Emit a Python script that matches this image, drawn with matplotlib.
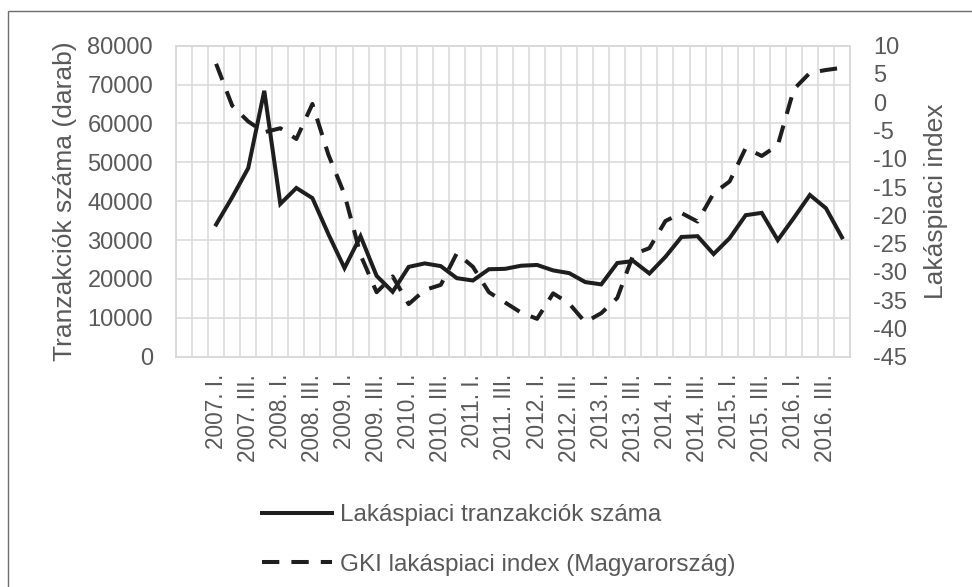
import matplotlib

matplotlib.use("Agg")
import matplotlib.pyplot as plt
import matplotlib.patches as mpatches
import numpy as np

plt.rcParams["font.family"] = ["Liberation Sans", "DejaVu Sans"]

# quarterly data, 2007 Q1 .. 2016 Q4
YEARS = list(range(2007, 2017))
QUARTERS = ["I.", "II.", "III.", "IV."]
categories = [f"{y}. {q}" for y in YEARS for q in QUARTERS]

transactions = [34000, 41000, 48500, 68400, 39300, 43400, 40800, 31500,
                22800, 31000, 20800, 16700, 23100, 24000, 23300, 20200,
                19600, 22500, 22600, 23400, 23600, 22200, 21500, 19200,
                18600, 24100, 24600, 21400, 25700, 30800, 31000, 26400,
                30500, 36400, 37000, 30000, 35700, 41600, 38200, 30700]

gki_index = [6.8, -0.6, -3.4, -5.3, -4.6, -6.5, -0.3, -9.3,
             -16.3, -27.0, -33.6, -30.8, -35.7, -33.2, -32.3, -26.7,
             -29.1, -33.6, -35.4, -37.2, -38.3, -33.8, -35.6, -38.9,
             -37.3, -34.6, -26.9, -25.8, -21.0, -19.6, -21.1, -16.1,
             -14.0, -8.1, -9.5, -7.6, 2.3, 5.2, 5.7, 6.1]

left_ticks = list(range(0, 80001, 10000))
right_ticks = list(range(-45, 11, 5))

label_left = "Tranzakciók száma (darab)"
label_right = "Lakáspiaci index"
legend_labels = ["Lakáspiaci tranzakciók száma", "GKI lakáspiaci index (Magyarország)"]

TXT = "#595959"
GRID = "#d9d9d9"
LINE = "#1e1e1e"

fig = plt.figure(figsize=(9.72, 5.87), dpi=100)
W, H = 972, 587
ax = fig.add_axes([176 / W, 1 - 356.7 / H, 674 / W, 311 / H])
ax2 = ax.twinx()

x = np.arange(len(categories))
l1, = ax.plot(x, transactions, color=LINE, lw=2.9, solid_joinstyle="miter")
l2, = ax2.plot(x, gki_index, color=LINE, lw=2.9, dashes=(4.3, 3),
               dash_capstyle="butt")

# two empty slots on the left, as in the original category axis
ax.set_xlim(-2.5, len(categories) - 0.5)
ax.set_ylim(0, 80000)
ax2.set_ylim(-45, 10)

ax.set_xticks(x[::2])
ax.set_xticklabels(categories[::2], rotation=90, fontsize=16.3, color=TXT)
ax.set_xticks(np.arange(-2.5, len(categories), 1.0), minor=True)
ax.set_yticks(left_ticks)
ax.set_yticklabels([str(v) for v in left_ticks], fontsize=17, color=TXT)
ax2.set_yticks(right_ticks)
ax2.set_yticklabels([str(v) for v in right_ticks], fontsize=17, color=TXT)

ax.tick_params(axis="x", which="both", length=0, pad=12.5)
ax.tick_params(axis="y", length=0, pad=16.5)
ax2.tick_params(axis="y", length=0, pad=16.5)

ax.grid(axis="x", which="minor", color=GRID, lw=1.1)
ax.grid(axis="y", which="major", color=GRID, lw=1.1)
ax.set_axisbelow(True)
for a in (ax, ax2):
    for s in a.spines.values():
        s.set_color(GRID)
        s.set_linewidth(1.1)

ax.set_ylabel(label_left, fontsize=19, color=TXT)
ax.yaxis.set_label_coords((77 - 176) / 674, 0.5)
ax2.set_ylabel(label_right, fontsize=19, color=TXT)
ax2.yaxis.set_label_coords((924 - 176) / 674, 0.5)

fig.legend([l1, l2], legend_labels, loc="center left",
           bbox_to_anchor=(262 / W, 1 - 540 / H), frameon=False,
           fontsize=17.5, handlelength=2.9, handletextpad=0.3,
           labelspacing=1.15, borderpad=0, borderaxespad=0, labelcolor=TXT)

# outer frame of the exported chart (left and top edges visible)
fig.patches.append(mpatches.Rectangle((8 / W, -0.1), 1.2, 1.1 - 10.5 / H,
                                      transform=fig.transFigure, fill=False,
                                      edgecolor="#6e6e6e", lw=1.0))

fig.savefig("out.png", dpi=100)
